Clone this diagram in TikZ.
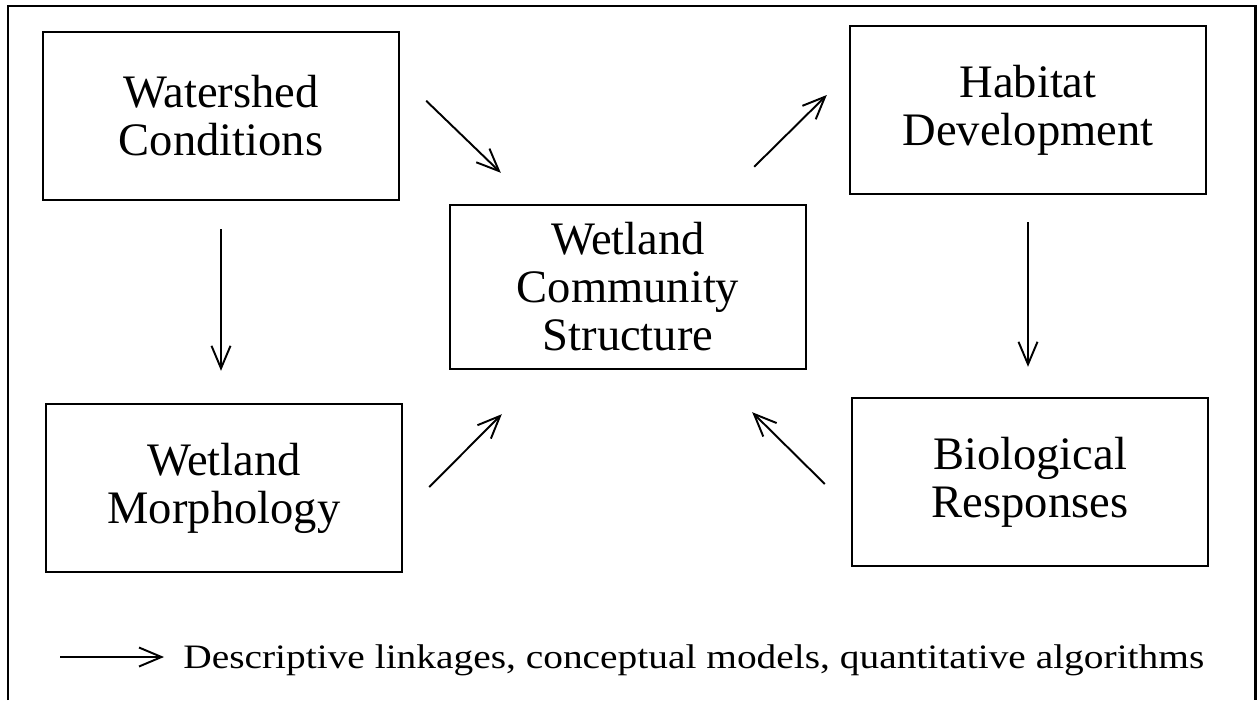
\documentclass[tikz,border=0pt]{standalone}
\usepackage{fontspec}
\setmainfont{Liberation Serif}
\newfontfamily\legendfont[FakeStretch=1.15]{Liberation Serif}
\usepackage{tikz}
\usetikzlibrary{positioning,calc,arrows.meta}

\begin{document}
\begin{tikzpicture}[
    x=0.02cm, y=-0.02cm,
    box/.style={draw, rectangle, minimum width=7.12cm, minimum height=3.36cm, align=center, line width=1.4pt, inner sep=0pt, font=\fontsize{26.5}{27.3}\selectfont},
    line/.style={draw, -{Straight Barb[length=0.45cm, width=0.38cm, line width=1.1pt]}, line width=1.1pt},
    frame/.style={draw, line width=1.7pt}
]
    \useasboundingbox (0,0) rectangle (1257,700);
    \draw[frame] (8,700) -- (8,6) -- (1255,6) -- (1255,700);

    % Nodes
    \node[box] (water) at (221,116) {Watershed\\Conditions};
    \node[box, minimum height=3.28cm] (comm) at (628,287) {Wetland\\Community\\Structure};
    \node[box] (habitat) at (1028,110) {Habitat\\Development};
    \node[box] (morph) at (224,488) {Wetland\\Morphology};
    \node[box] (bio) at (1030,482) {Biological\\Responses};
    \node[anchor=base west, inner sep=0pt, font=\legendfont\fontsize{19.5}{21}\selectfont] (legend) at (183,668) {Descriptive linkages, conceptual models, quantitative algorithms};
    \coordinate (legtail) at (60,657);

    % Connections
    \draw[line] ($(water.north east)+(26,70)$) -- ($(comm.north west)+(52,-31)$);
    \draw[line] ($(comm.north east)+(-53,-37)$) -- ($(habitat.west)+(-22,-15)$);
    \draw[line] ($(morph.east)+(26,-1)$) -- ($(comm.south west)+(53,44)$);
    \draw[line] ($(bio.west)+(-26,2)$) -- ($(comm.south east)+(-55,42)$);
    \draw[line, shorten <=0.56cm, shorten >=0.64cm] (water.south) -- (water.south |- morph.north);
    \draw[line, shorten <=0.54cm, shorten >=0.6cm] (habitat.south) -- (habitat.south |- bio.north);
    \draw[line, line width=1.6pt] (legtail) -- ($(legend.base west)+(-19,-11)$);
\end{tikzpicture}
\end{document}
